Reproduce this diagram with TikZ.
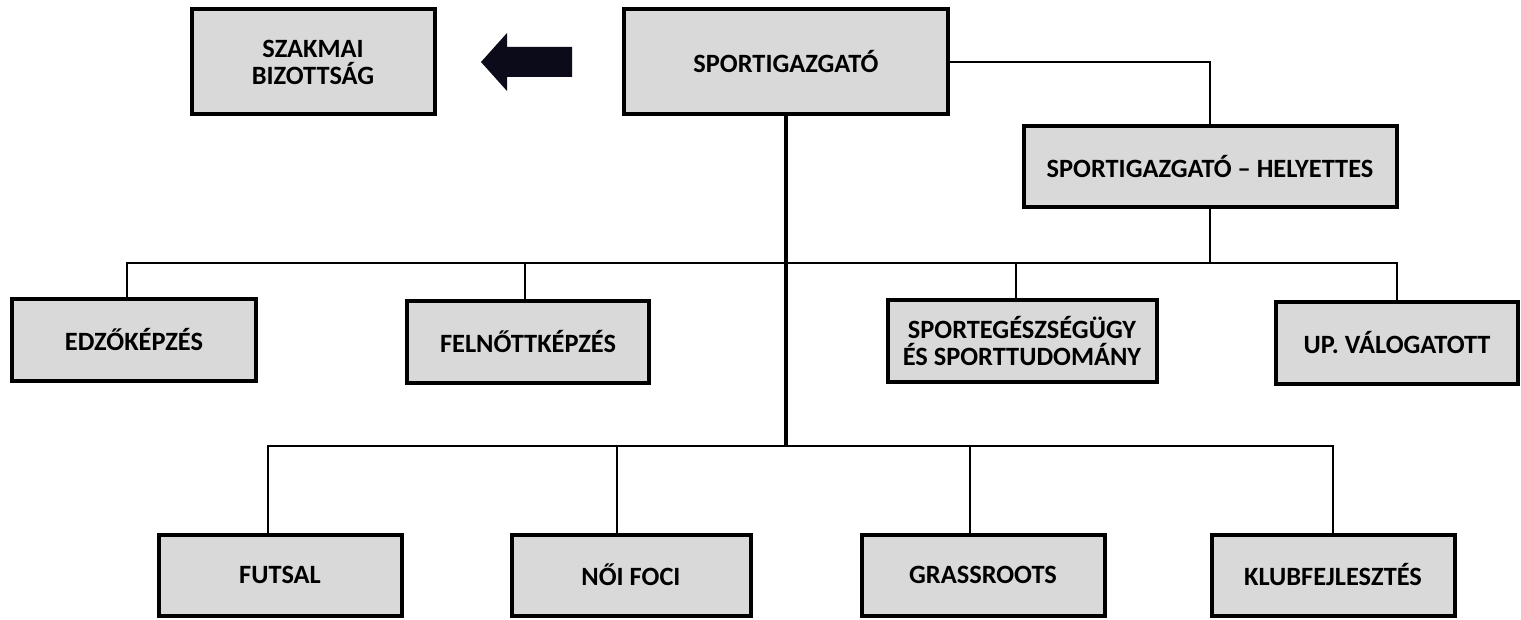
\documentclass[tikz,border=0pt]{standalone}
\usepackage{fontspec}
\setmainfont{Carlito}
\usetikzlibrary{positioning}
\definecolor{boxgray}{HTML}{D9D9D9}
\definecolor{arrowink}{HTML}{0B0B1A}
\tikzset{
    orgchart/.style={x=0.5pt, y=-0.5pt, font=\bfseries\fontsize{13.2}{13.5}\selectfont},
    unit/.style={draw, fill=boxgray, line width=2pt, inner sep=2pt, align=center, minimum height=40.5pt},
    tallunit/.style={unit, minimum height=52.5pt},
    link/.style={line width=1.2pt},
    trunk/.style={line width=1.7pt},
}

\begin{document}
\begin{tikzpicture}[orgchart]
    \useasboundingbox (0,0) rectangle (1521,620);

    % top level
    \node[tallunit, minimum width=121.5pt] (szakmai)   at (313,62)   {SZAKMAI\\BIZOTTSÁG};
    \node[tallunit, minimum width=162pt]   (sport)     at (786,62)   {SPORTIGAZGATÓ};
    \node[unit, minimum width=186.5pt]     (helyettes) at (1210,167) {SPORTIGAZGATÓ -- HELYETTES};

    % second row
    \node[unit, minimum width=122pt]   (edzo)    at (134,340)  {EDZŐKÉPZÉS};
    \node[unit, minimum width=121pt]   (felnott) at (528,342)  {FELNŐTTKÉPZÉS};
    \node[unit, minimum width=134.5pt] (sporteg) at (1022,341) {SPORTEGÉSZSÉGÜGY\\ÉS SPORTTUDOMÁNY};
    \node[unit, minimum width=121pt]   (upval)   at (1397,343) {UP. VÁLOGATOTT};

    % third row
    \node[unit, minimum width=121.5pt] (futsal) at (280,575)  {FUTSAL};
    \node[unit, minimum width=119.5pt] (noi)    at (631,575)  {NŐI FOCI};
    \node[unit, minimum width=121.5pt] (grass)  at (983,575)  {GRASSROOTS};
    \node[unit, minimum width=121.5pt] (klub)   at (1333,575) {KLUBFEJLESZTÉS};

    \coordinate (bus1) at (786,263);
    \coordinate (bus2) at (786,446);

    % block arrow towards the committee
    \fill[arrowink] (572,47) -- (507,47) -- (507,33) -- (481,62) -- (507,91) -- (507,77) -- (572,77) -- cycle;

    % deputy
    \draw[link] (sport.east) -| (helyettes.north);
    \draw[link] (helyettes.south) -- (helyettes.south |- bus1);

    % second row bus
    \draw[link] ([xshift=-3.5pt]edzo.north) |- (bus1) -| (upval.north);
    \draw[link] ([xshift=-1.5pt]felnott.north) -- ([xshift=-1.5pt]felnott.north |- bus1);
    \draw[link] ([xshift=-3pt]sporteg.north) -- ([xshift=-3pt]sporteg.north |- bus1);

    % trunk and third row bus
    \draw[trunk] (sport.south) -- (bus2);
    \draw[link] ([xshift=-6pt]futsal.north) |- (bus2) -| (klub.north);
    \draw[link] ([xshift=-7pt]noi.north) -- ([xshift=-7pt]noi.north |- bus2);
    \draw[link] ([xshift=-6.5pt]grass.north) -- ([xshift=-6.5pt]grass.north |- bus2);
\end{tikzpicture}
\end{document}
